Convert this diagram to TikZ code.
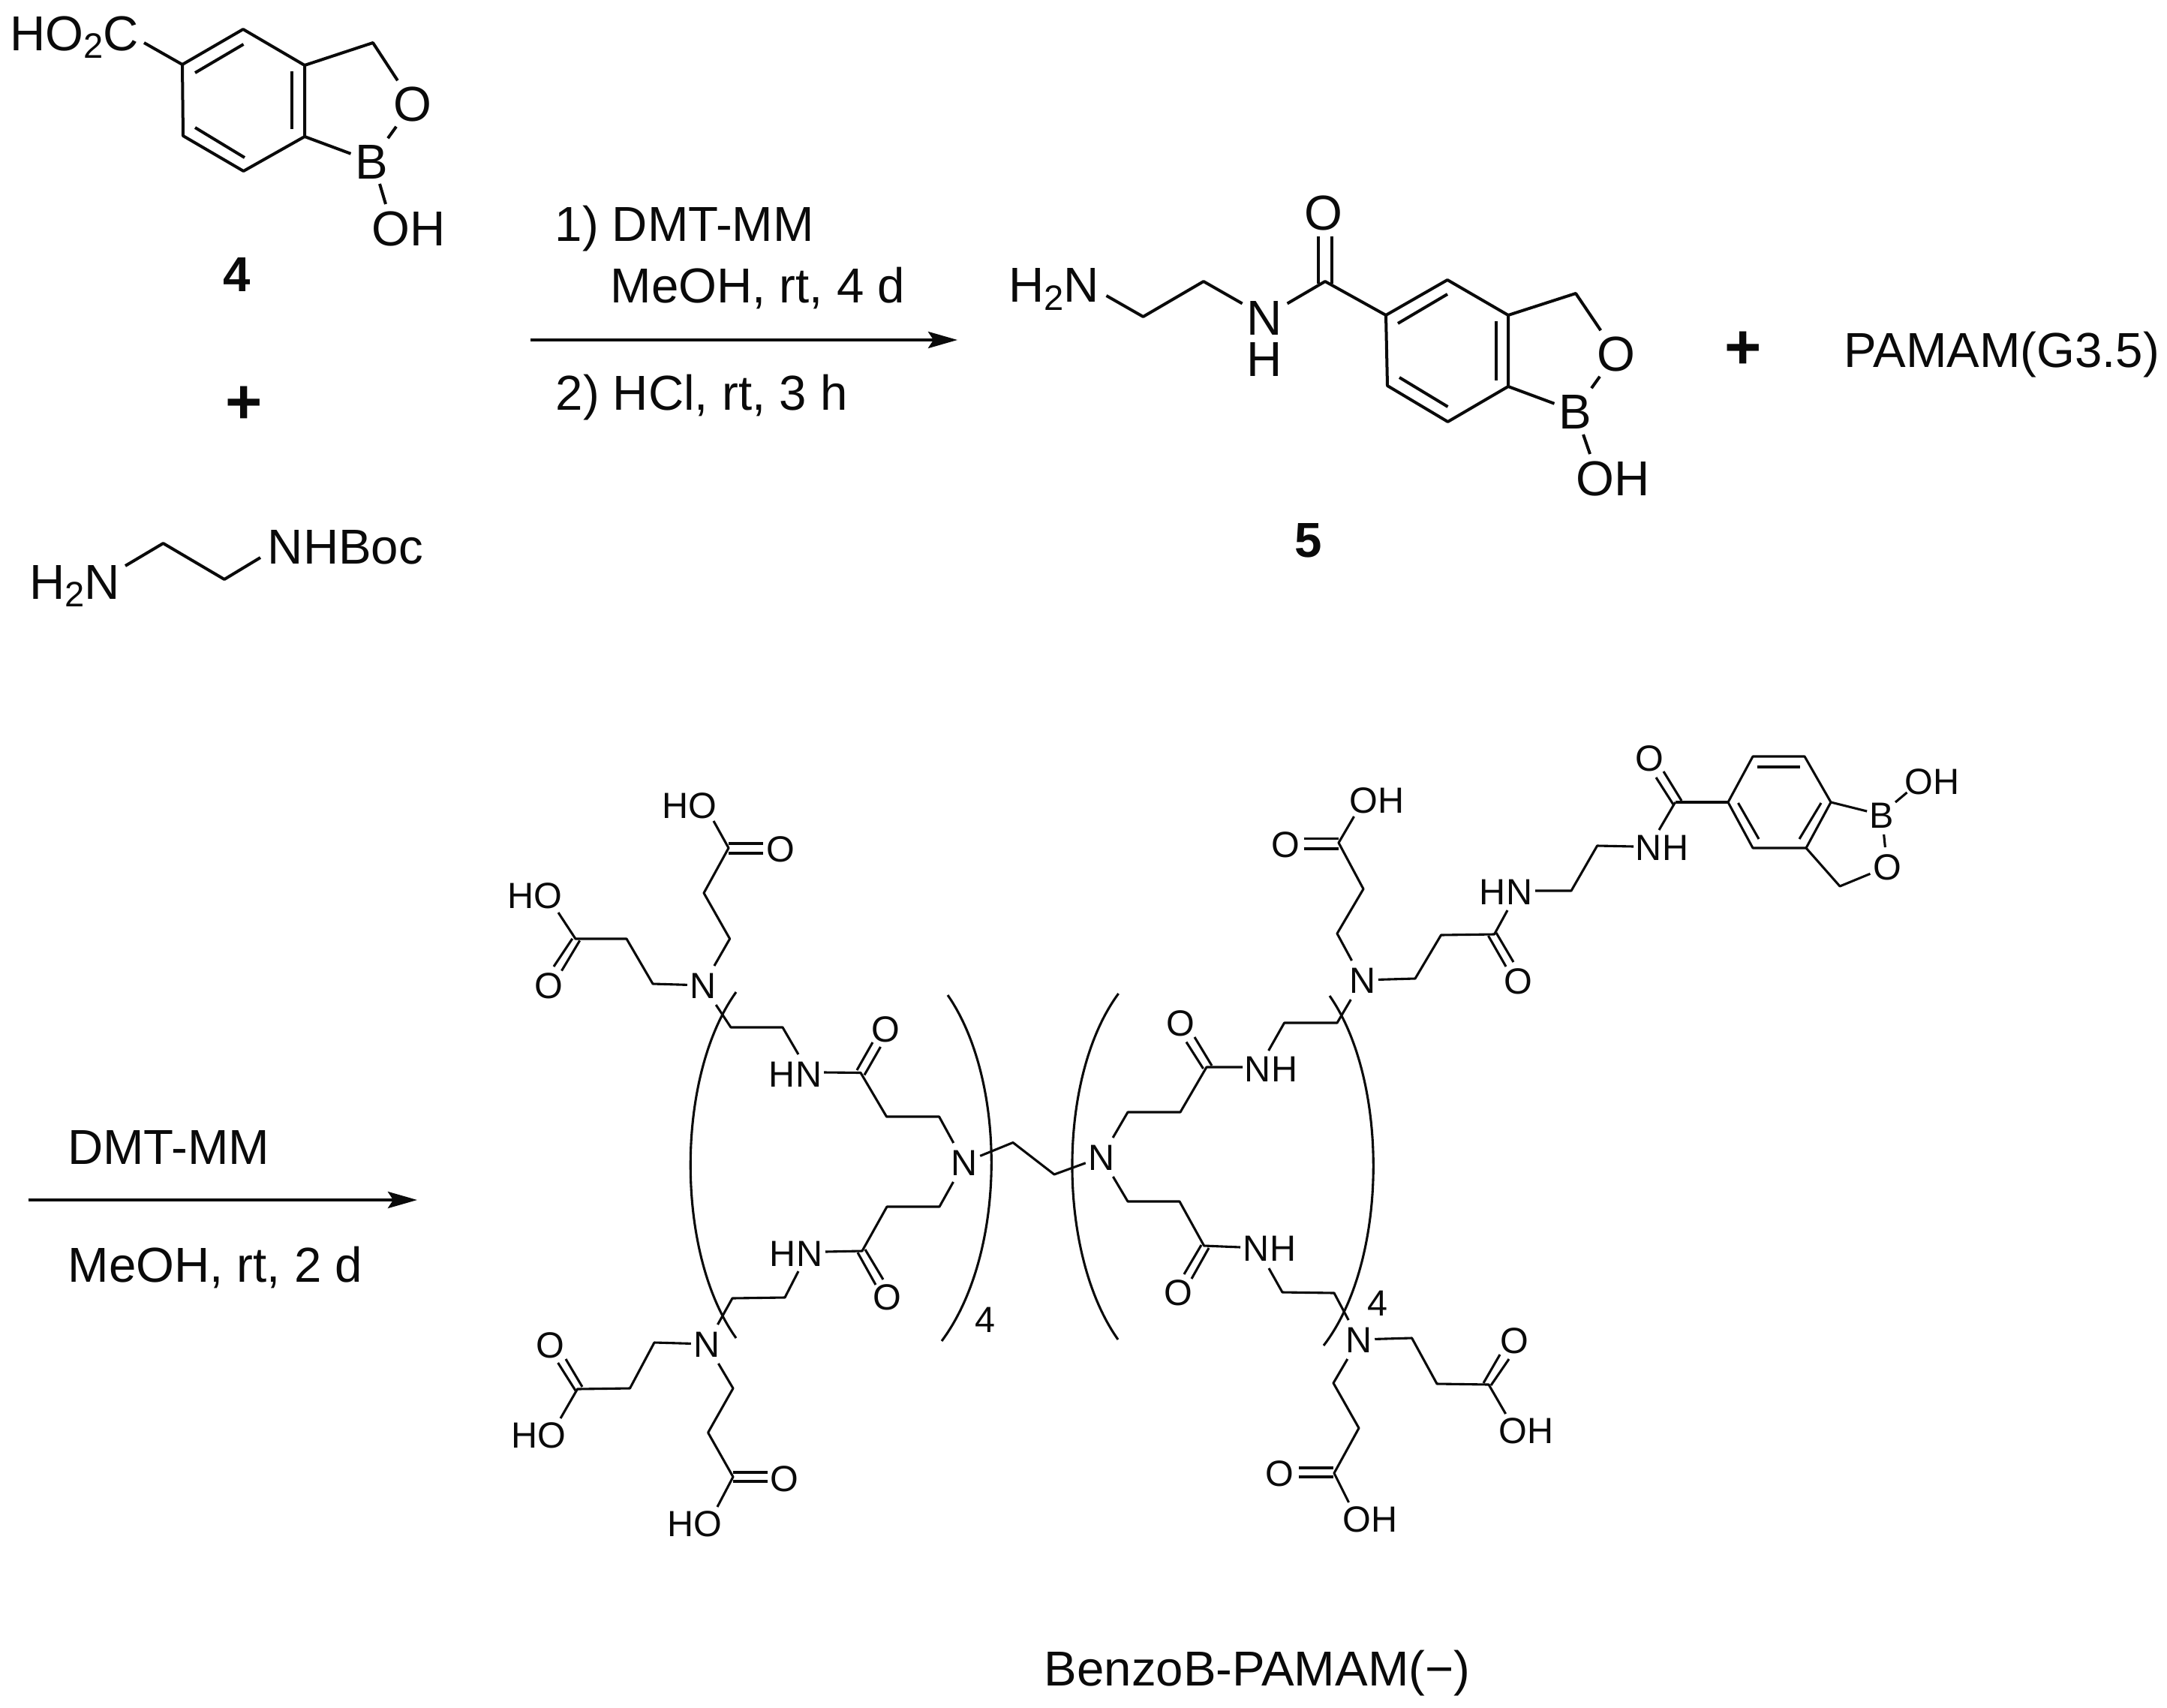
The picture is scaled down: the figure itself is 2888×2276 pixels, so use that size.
\documentclass[tikz,border=0pt]{standalone}
\usepackage{fontspec}
\setmainfont{Liberation Sans}
\usetikzlibrary{arrows.meta}
\definecolor{ink}{HTML}{0A0A0A}
\newcommand\subs[2]{\raisebox{#2}{\fontsize{#1}{#1}\selectfont 2}}
\newcounter{dbn}
\newcommand\DL[3][bL]{\stepcounter{dbn}\coordinate (d\arabic{dbn}s) at (#2);\coordinate (d\arabic{dbn}e) at (#3);\draw[#1] (d\arabic{dbn}s) -- (d\arabic{dbn}e);}
\newcommand\Cc[2]{\coordinate (#1) at (#2);}
\newcommand\Ah[3]{\node[atomT] (#1) at (#2) {#3};}
\newcommand\Al[3]{\node[atomL] (#1) at (#2) {#3};}
\tikzset{
  bT/.style={line width=0.04cm,draw=ink,line join=round,line cap=butt},
  bL/.style={line width=0.031cm,draw=ink,line join=round,line cap=butt},
  atomT/.style={text=ink,font=\fontsize{18.6pt}{20pt}\selectfont,text height=0.47cm,text depth=0pt,inner xsep=0.05cm,inner ysep=0.065cm},
  atomL/.style={text=ink,font=\fontsize{13.8pt}{15pt}\selectfont,text height=0.345cm,text depth=0pt,inner xsep=0.03cm,inner ysep=0.08cm},
  stackT/.style={text=ink,font=\fontsize{18.6pt}{15.4pt}\selectfont,align=center,inner sep=0pt},
  txt/.style={text=ink,font=\fontsize{18.6pt}{20pt}\selectfont,anchor=base west,inner sep=0pt},
  cmpd/.style={text=ink,font=\fontsize{18.6pt}{20pt}\selectfont\bfseries,inner sep=0pt},
  plus/.style={text=ink,font=\fontsize{24pt}{26pt}\selectfont\bfseries,inner sep=0pt},
  rep/.style={text=ink,font=\fontsize{13.8pt}{15pt}\selectfont,inner sep=0pt},
  rxn/.style={line width=0.04cm,draw=ink,-{Stealth[length=0.39cm,width=0.22cm,inset=0.07cm]}},
  paren/.style={line width=0.031cm,draw=ink},
}
\begin{document}
\begin{tikzpicture}[x=0.01cm,y=-0.01cm]
\fill[white] (0,0) rectangle (2888,2276);
\useasboundingbox (0,0) rectangle (2888,2276);

% ---------- compound 4
\Cc{a1}{243,86}\Cc{a2}{324,39}\Cc{a3}{406,87}\Cc{a4}{406,182}\Cc{a5}{324.5,228}\Cc{a6}{244,181}\Cc{a7}{497,57}
\Ah{aHO}{99,43.5}{HO\subs{13.4pt}{-3.1pt}C}
\Ah{aO}{550,138}{O}
\Ah{aB}{495,215}{B}
\Ah{aOH}{545,304}{OH}
\draw[bT] (a1) -- (a2) -- (a3) -- (a4) -- (a5) -- (a6) -- cycle;
\DL[bT]{260,97}{324.5,59}\DL[bT]{389,95}{389,172}\DL[bT]{260,170}{326,210}
\draw[bT] ([shift={(93,13.5)}]aHO.center) -- (a1);
\draw[bT] (a3) -- (a7) -- (aO);
\draw[bT] (aO) -- (aB);
\draw[bT] (a4) -- (aB);
\draw[bT] ([shift={(11,30)}]aB.center) -- ([shift={(-31,-32)}]aOH.center);
\node[cmpd] (n4) at (316,366) {4};
\node[plus] (p1) at (325,540) {+};

% ---------- Boc-ethylenediamine
\Cc{e1}{217.5,724}\Cc{e2}{299,772}
\Ah{eH2N}{99.5,774.5}{H\subs{13.4pt}{-3.1pt}N}
\Ah{eBoc}{460.5,727.5}{NHBoc}
\draw[bT] ([shift={(67.5,-20.5)}]eH2N.center) -- (e1) -- (e2) -- ([shift={(-113.5,15.5)}]eBoc.center);

% ---------- reaction 1
\node[txt] (r1a) at (739,322) {1) DMT-MM};
\node[txt] (r1b) at (813,404) {MeOH, rt, 4 d};
\node[txt] (r1c) at (740,547) {2) HCl, rt, 3 h};
\Cc{ar1s}{706.5,453}\Cc{ar1e}{1276,453}
\draw[rxn] (ar1s) -- (ar1e);

% ---------- compound 5
\Cc{b1}{1847,420}\Cc{b2}{1929,373}\Cc{b3}{2010,420}\Cc{b4}{2010,515}\Cc{b5}{1929.5,562}\Cc{b6}{1849,514}\Cc{b7}{2100,391}
\Cc{bC}{1766,375}\Cc{bc1}{1523.5,422}\Cc{bc2}{1604,375}
\Ah{bH2N}{1404.5,379}{H\subs{13.4pt}{-3.1pt}N}
\node[stackT] (bNH) at (1684.6,451.5) {N\\H};
\Ah{bO1}{1764,283}{O}
\Ah{bO2}{2154,471}{O}
\Ah{bB}{2099,548}{B}
\Ah{bOH}{2150,637}{OH}
\draw[bT] (b1) -- (b2) -- (b3) -- (b4) -- (b5) -- (b6) -- cycle;
\DL[bT]{1863,431}{1929,392}\DL[bT]{1994,428}{1994,507}\DL[bT]{1865,503}{1929.5,542}
\draw[bT] ([shift={(70,15)}]bH2N.center) -- (bc1) -- (bc2) -- ([shift={(-29,-47)}]bNH.center);
\draw[bT] ([shift={(31,-47)}]bNH.center) -- (bC) -- (b1);
\DL[bT]{1757.4,315}{1757.4,378}\DL[bT]{1774.6,315}{1774.6,378}
\draw[bT] (b3) -- (b7) -- (bO2);
\draw[bT] (bO2) -- (bB);
\draw[bT] (b4) -- (bB);
\draw[bT] ([shift={(11,31)}]bB.center) -- ([shift={(-31,-32)}]bOH.center);
\node[cmpd] (n5) at (1744,720) {5};
\node[plus] (p2) at (2323,467) {+};
\node[txt] (pam) at (2457,489) {PAMAM(G3.5)};

% ---------- reaction 2
\node[txt] (r2a) at (89.5,1551) {DMT-MM};
\node[txt] (r2b) at (90,1708) {MeOH, rt, 2 d};
\Cc{ar2s}{37.5,1599}\Cc{ar2e}{556,1599}
\draw[rxn] (ar2s) -- (ar2e);

% ---------- repeat brackets
\Cc{pa1}{981,1322}\Cc{pa2}{981,1783}
\Cc{pb1}{1263,1326}\Cc{pb2}{1255,1787}
\Cc{pc1}{1490.6,1324}\Cc{pc2}{1490,1785}
\Cc{pd1}{1772,1327}\Cc{pd2}{1764,1793}
\draw[paren] (pa1) .. controls (900,1435) and (900,1670) .. (pa2);
\draw[paren] (pb1) .. controls (1342,1440) and (1342,1670) .. (pb2);
\draw[paren] (pc1) .. controls (1408.5,1435) and (1408.5,1670) .. (pc2);
\draw[paren] (pd1) .. controls (1851,1440) and (1851,1680) .. (pd2);
\node[rep] (rep1) at (1313,1759) {4};
\node[rep] (rep2) at (1836,1737) {4};

% ---------- left half
\Al{n1}{937,1313}{N}\Al{n2}{1285,1549}{N}\Al{n3}{942,1791}{N}
\Cc{c1}{972.6,1251}\Cc{c2}{938,1190}\Cc{c3}{971,1130}
\Al{ho1}{919,1073}{HO}\Al{o1}{1040.5,1131}{O}
\draw[bL] (n1) -- (c1) -- (c2) -- (c3) -- ([shift={(32,21)}]ho1.center);
\DL{971,1124}{1017,1124}\DL{971,1137}{1017,1137}
\Cc{c4}{870,1311}\Cc{c5}{835,1251}\Cc{c6}{767,1251}
\Al{ho2}{713,1193}{HO}\Al{o2}{731,1313}{O}
\draw[bL] (n1) -- (c4) -- (c5) -- (c6) -- ([shift={(31,23)}]ho2.center);
\DL{762.8,1250.8}{738,1288}\DL{772.6,1253.4}{748.5,1293.6}
\Cc{c7}{974,1369}\Cc{c8}{1043,1369}\Cc{c9}{1147,1429.5}\Cc{c10}{1181.5,1488}\Cc{c11}{1251.6,1488}
\Al{hn1}{1060,1431}{HN}\Al{o3}{1180,1371}{O}
\draw[bL] (n1) -- (c7) -- (c8) -- ([shift={(4,-26)}]hn1.center);
\draw[bL] ([shift={(38,-2)}]hn1.center) -- (c9) -- (c10) -- (c11) -- (n2);
\DL{1142,1426}{1163,1389}\DL{1152,1432.5}{1173.5,1395}
\Cc{c12}{1252,1608}\Cc{c13}{1182,1608}\Cc{c14}{1149,1667}\Cc{c15}{1046,1729}\Cc{c16}{976,1730}
\Al{hn2}{1061,1670}{HN}\Al{o4}{1182,1728}{O}
\draw[bL] (n2) -- (c12) -- (c13) -- (c14) -- ([shift={(39,-2)}]hn2.center);
\draw[bL] ([shift={(3,24)}]hn2.center) -- (c15) -- (c16) -- (n3);
\DL{1143,1669}{1167,1712}\DL{1153,1665}{1177,1705}
\Cc{c17}{872,1789}\Cc{c18}{839.5,1850}\Cc{c19}{769.5,1851}
\Al{o5}{733,1792}{O}\Al{ho3}{718,1912}{HO}
\draw[bL] (n3) -- (c17) -- (c18) -- (c19) -- ([shift={(29,-22)}]ho3.center);
\DL{743.6,1816}{767,1853}\DL{754,1811}{776,1848}
\Cc{c20}{977,1850}\Cc{c21}{943.6,1909}\Cc{c22}{977,1968}
\Al{o6}{1045,1970}{O}\Al{ho4}{926,2030}{HO}
\draw[bL] (n3) -- (c20) -- (c21) -- (c22) -- ([shift={(30,-22)}]ho4.center);
\DL{977,1962}{1022.6,1962}\DL{977,1974}{1022.6,1974}

% ---------- core
\Al{n4a}{1468,1542}{N}
\Cc{m1}{1350,1522.5}\Cc{m2}{1405,1565}
\draw[bL] (n2) -- (m1) -- (m2) -- (n4a);

% ---------- right half, upper
\Cc{f1}{1503,1482}\Cc{f2}{1573,1482}\Cc{f3}{1608,1422}
\Al{nh3}{1694,1424.5}{NH}\Al{o7}{1573,1363}{O}
\draw[bL] (n4a) -- (f1) -- (f2) -- (f3) -- ([shift={(-38,-2.5)}]nh3.center);
\DL{1581,1388.5}{1603.6,1424}\DL{1592,1382}{1615,1420}
\Al{n5a}{1815.6,1306}{N}
\Cc{f4}{1711.6,1363}\Cc{f5}{1782,1363}
\draw[bL] ([shift={(-3.4,-24.5)}]nh3.center) -- (f4) -- (f5) -- (n5a);
\Cc{f6}{1782,1244}\Cc{f7}{1817,1184.6}\Cc{f8}{1784,1123}
\Al{oh5}{1835,1066}{OH}\Al{o8}{1713,1125}{O}
\draw[bL] (n5a) -- (f6) -- (f7) -- (f8) -- ([shift={(-30.5,22)}]oh5.center);
\DL{1737.5,1117.6}{1784,1117.6}\DL{1737.5,1131}{1784,1131}
\Cc{f9}{1886,1304}\Cc{f10}{1920.5,1246}\Cc{f11}{1991.5,1245}
\Al{hn4}{2007,1188}{HN}\Al{o9}{2023,1307}{O}
\draw[bL] (n5a) -- (f9) -- (f10) -- (f11) -- ([shift={(2,25)}]hn4.center);
\DL{1983.5,1247}{2007,1288}\DL{1994,1243}{2017,1282}
\Cc{f12}{2094,1187}\Cc{f13}{2128.6,1127}\Cc{f14}{2232.6,1069}
\Al{nh5}{2215,1129.5}{NH}\Al{o10}{2198,1010}{O}
\draw[bL] ([shift={(39,-1)}]hn4.center) -- (f12) -- (f13) -- ([shift={(-38,-1.5)}]nh5.center);
\draw[bL] ([shift={(-4,-23.5)}]nh5.center) -- (f14);
\DL{2207,1036}{2230,1072}\DL{2217,1028}{2241,1067}
\Cc{r1}{2303,1069}\Cc{r2}{2336,1008}\Cc{r3}{2405,1008}\Cc{r4}{2440,1069}\Cc{r5}{2407,1130}\Cc{r6}{2336,1130}\Cc{r7}{2452,1181}
\draw[bL] (f14) -- (r1);
\draw[bL] (r1) -- (r2) -- (r3) -- (r4) -- (r5) -- (r6) -- cycle;
\DL{2342,1022}{2399,1022}\DL{2427,1070}{2398,1118}\DL{2316.5,1070}{2344,1118}
\Al{bB2}{2508,1086}{B}\Al{oh6}{2575,1041}{OH}\Al{o11}{2515,1155}{O}
\draw[bL] (r4) -- (bB2);
\draw[bL] ([shift={(18,-17)}]bB2.center) -- ([shift={(-33.5,15)}]oh6.center);
\draw[bL] (bB2) -- (o11);
\draw[bL] (o11) -- (r7) -- (r5);

% ---------- right half, lower
\Cc{g1}{1503,1601}\Cc{g2}{1572,1601}\Cc{g3}{1604.6,1660}
\Al{nh6}{1692,1663}{NH}\Al{o12}{1570,1722}{O}
\draw[bL] (n4a) -- (g1) -- (g2) -- (g3) -- ([shift={(-39,-1)}]nh6.center);
\DL{1578,1698}{1601,1659}\DL{1588,1704}{1611,1663}
\Al{n6a}{1811,1785}{N}
\Cc{g4}{1709,1722}\Cc{g5}{1778,1723}
\draw[bL] ([shift={(-1,27)}]nh6.center) -- (g4) -- (g5) -- (n6a);
\Cc{g6}{1881.6,1783}\Cc{g7}{1915,1844}\Cc{g8}{1984,1845}
\Al{o13}{2018,1786}{O}\Al{oh7}{2034,1906}{OH}
\draw[bL] (n6a) -- (g6) -- (g7) -- (g8) -- ([shift={(-27.4,-22)}]oh7.center);
\DL{1987,1846}{2011,1811}\DL{1977,1843}{1999,1805}
\Cc{g9}{1777,1843}\Cc{g10}{1811,1903}\Cc{g11}{1778,1963}
\Al{o14}{1705.6,1963}{O}\Al{oh8}{1826,2024}{OH}
\draw[bL] (n6a) -- (g9) -- (g10) -- (g11) -- ([shift={(-28.5,-22)}]oh8.center);
\DL{1731,1956}{1777,1956}\DL{1731,1968}{1777,1968}

\node[txt] (title) at (1391,2246) {BenzoB-PAMAM(−)};
\end{tikzpicture}
\end{document}
